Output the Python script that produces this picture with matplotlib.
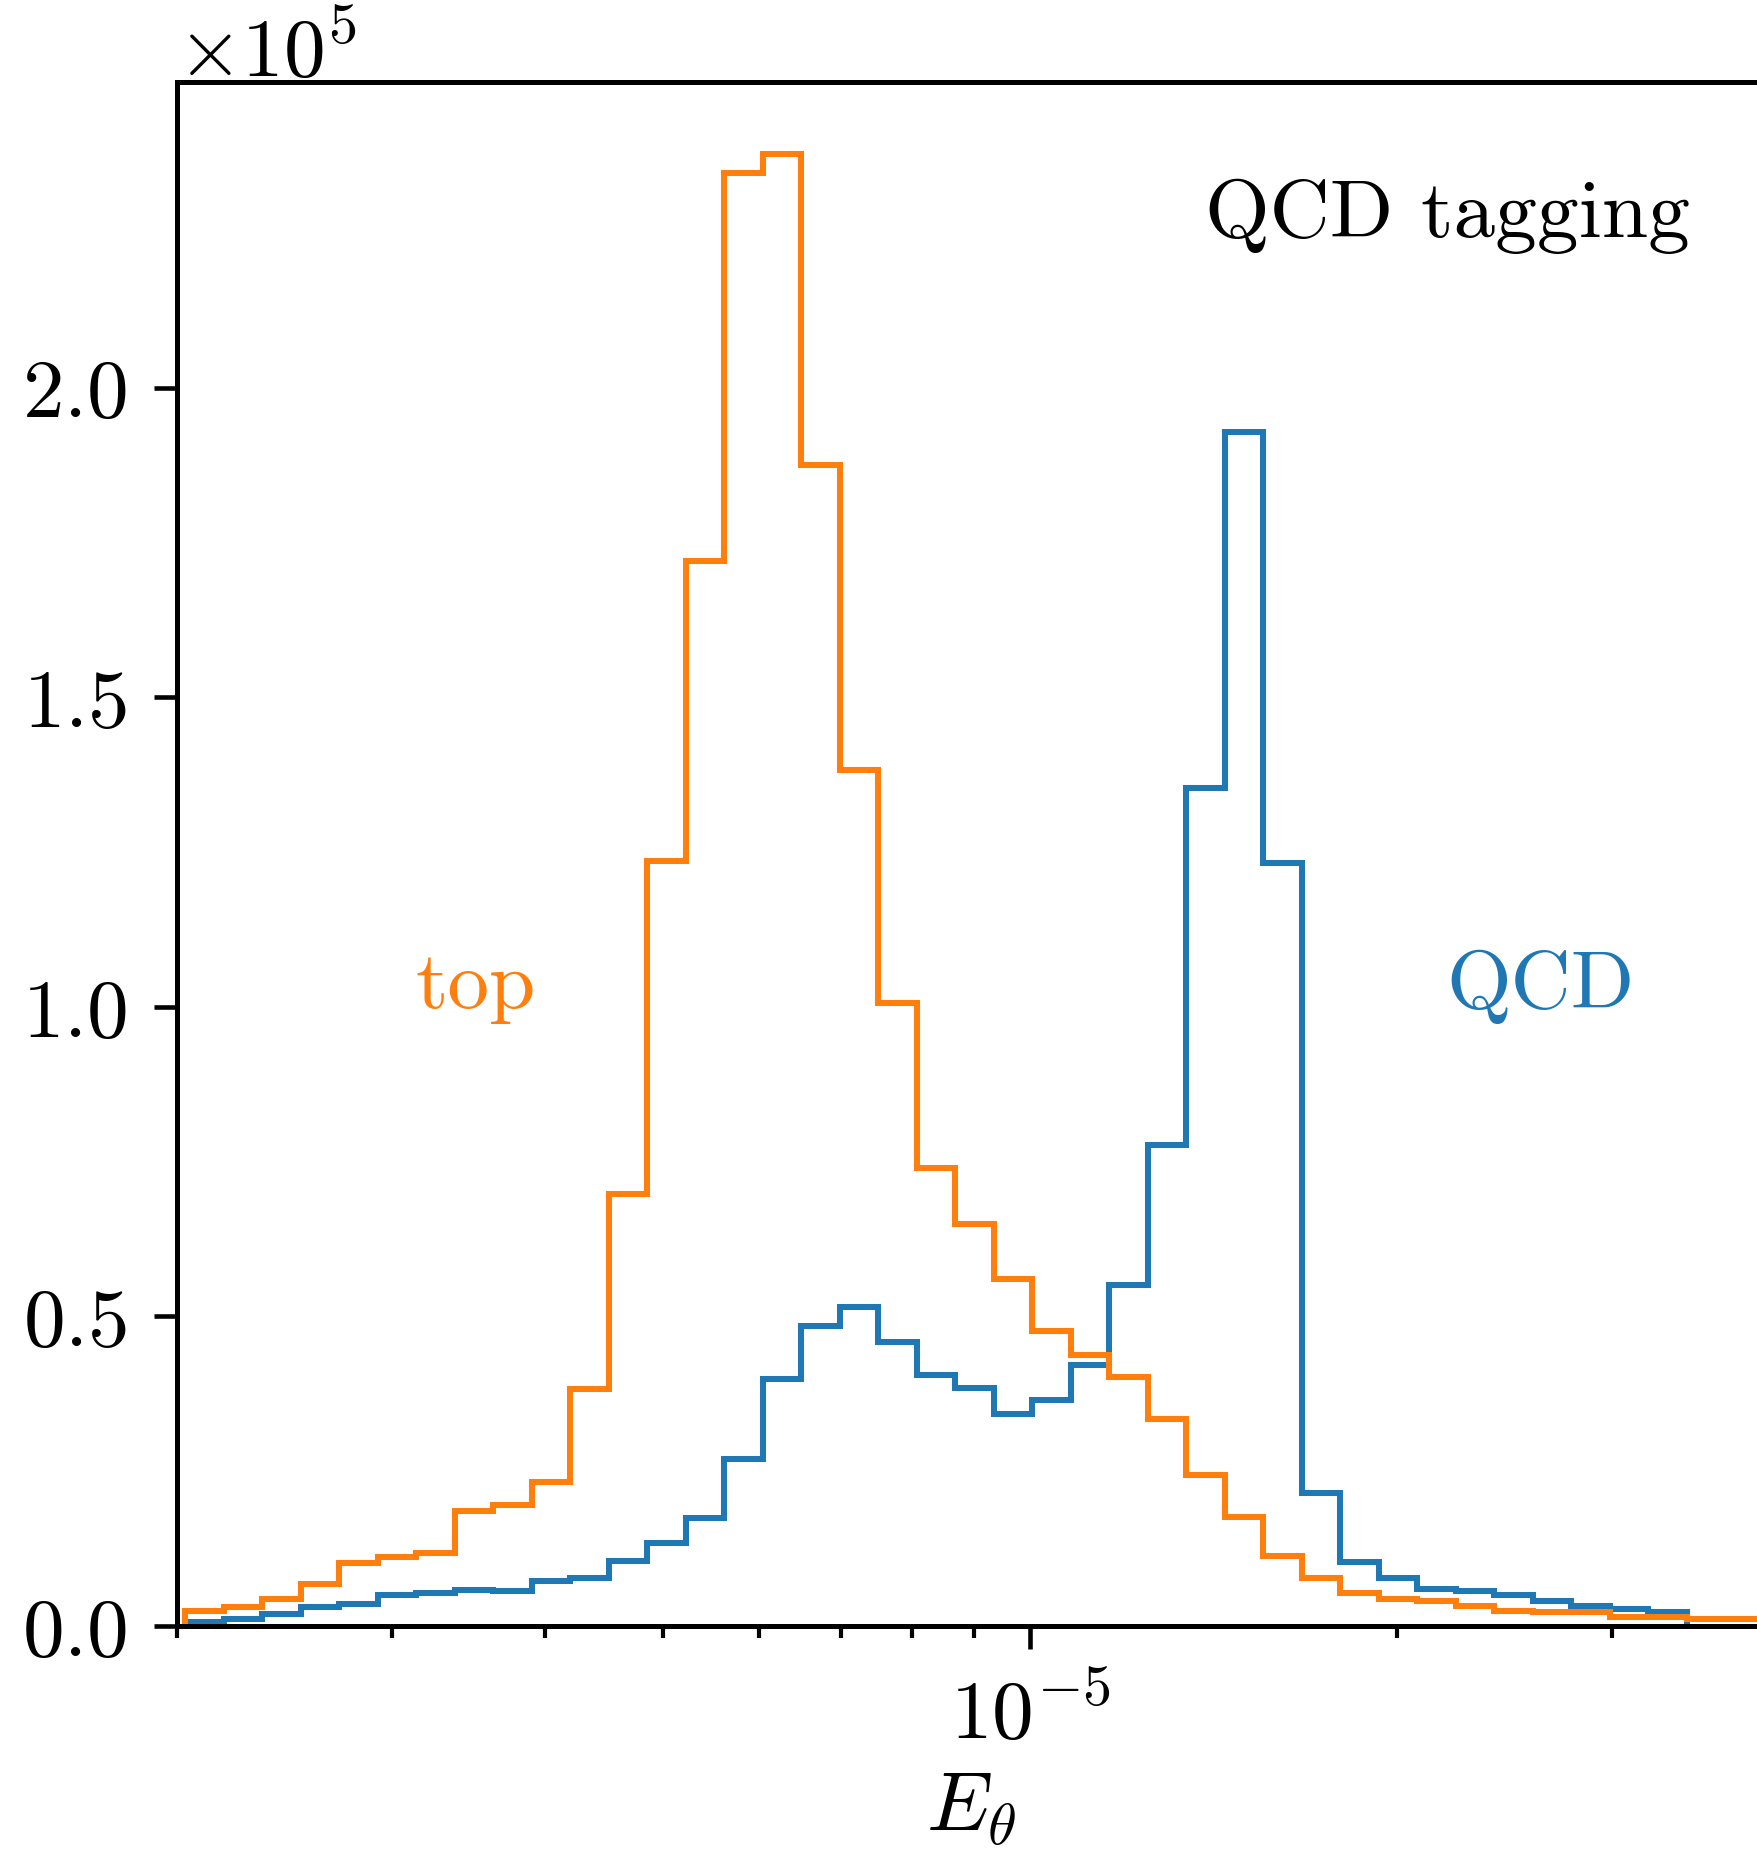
import numpy as np
import matplotlib
matplotlib.use("Agg")
import matplotlib.pyplot as plt
from matplotlib.ticker import NullFormatter

plt.rcParams['font.family'] = 'cmr10'
plt.rcParams['mathtext.fontset'] = 'cm'
plt.rcParams['axes.formatter.use_mathtext'] = True
plt.rcParams['font.size'] = 20

# log-spaced bin edges for E_theta
log_lo = np.log10(2.03e-6)
log_step = 0.03156
edges = np.logspace(log_lo, log_lo + 42 * log_step, 43)

# counts per bin, in units of 1e5
top_counts = [0.025, 0.030, 0.043, 0.068, 0.102, 0.111, 0.118, 0.186, 0.195, 0.232,
              0.382, 0.697, 1.235, 1.721, 2.347, 2.378, 1.876, 1.382, 1.006, 0.739,
              0.649, 0.561, 0.476, 0.437, 0.402, 0.335, 0.244, 0.176, 0.113, 0.078,
              0.054, 0.044, 0.040, 0.032, 0.025, 0.022, 0.022, 0.015, 0.014, 0.011,
              0.011, 0.008]
qcd_counts = [0.007, 0.011, 0.019, 0.031, 0.035, 0.050, 0.053, 0.058, 0.057, 0.072,
              0.077, 0.105, 0.134, 0.174, 0.269, 0.399, 0.485, 0.515, 0.458, 0.405,
              0.384, 0.342, 0.365, 0.422, 0.551, 0.777, 1.353, 1.929, 1.233, 0.215,
              0.104, 0.077, 0.060, 0.056, 0.050, 0.040, 0.032, 0.028, 0.023]

top = np.array(top_counts) * 1e5
qcd = np.array(qcd_counts) * 1e5

fig = plt.figure(figsize=(1757 / 300, 1852 / 300), dpi=300)
ax = fig.add_axes([0.1010, 0.1215, 0.9033, 0.8337])

ax.stairs(qcd, edges[:len(qcd) + 1], color='tab:blue', lw=1.45, baseline=0)
ax.stairs(top, edges[:len(top) + 1], color='tab:orange', lw=1.45, baseline=0)

ax.set_xscale('log')
ax.set_xlim(2e-6, 4e-5)
ax.set_ylim(0, 2.494e5)
ax.ticklabel_format(axis='y', style='sci', scilimits=(0, 0))
ax.yaxis.OFFSETTEXTPAD = 1.5
ax.xaxis.set_minor_formatter(NullFormatter())

for s in ax.spines.values():
    s.set_linewidth(1.2)
ax.tick_params(which='major', length=5.5, width=1.1, pad=6.5)
ax.tick_params(which='minor', length=2.8, width=1.0)

ax.set_xlabel(r'$E_\theta$', labelpad=4)

ax.text(0.953, 0.900, 'QCD tagging', transform=ax.transAxes,
        ha='right', va='baseline')
ax.text(0.1875, 0.401, 'top', transform=ax.transAxes, color='tab:orange',
        ha='center', va='baseline')
ax.text(0.859, 0.401, 'QCD', transform=ax.transAxes, color='tab:blue',
        ha='center', va='baseline')

fig.savefig('out.png', dpi=300)
